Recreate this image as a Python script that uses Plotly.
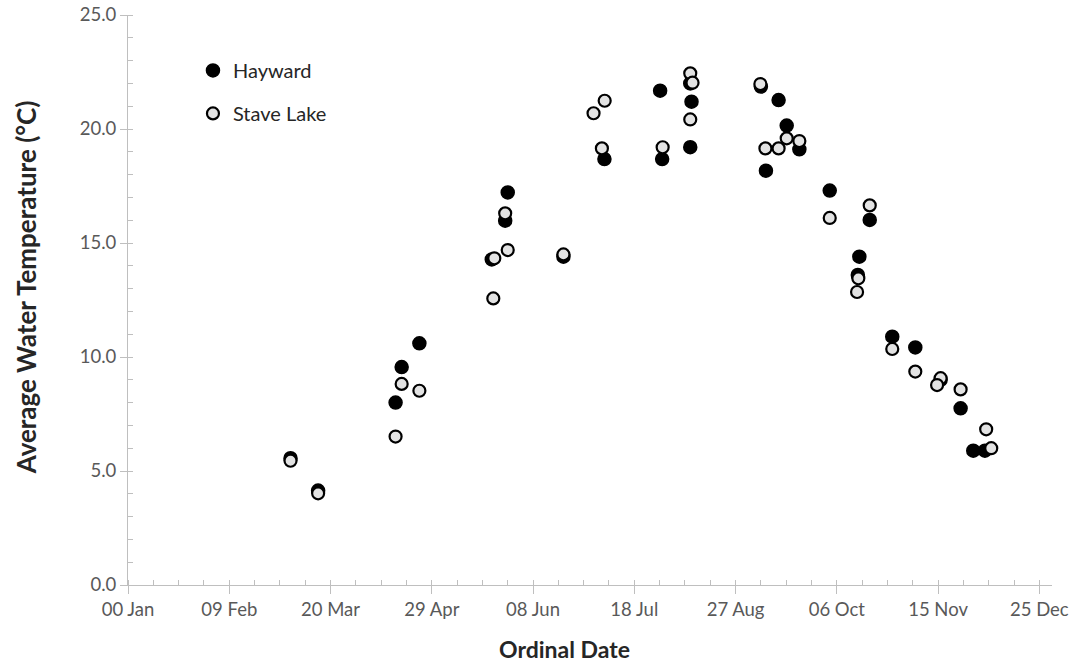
import plotly.graph_objects as go

# Ordinal day of year and average water temperature (°C)
hayward_day = [64.2, 75.1, 105.7, 108.1, 115.1, 143.7, 149.0, 150.0, 172.0, 188.2,
               210.2, 211.0, 222.1, 222.6, 222.1, 250.0, 252.0, 257.0, 260.2, 265.2,
               277.2, 288.9, 288.3, 293.0, 301.9, 311.0, 321.0, 328.9, 333.9, 338.5]
hayward_temp = [5.56, 4.14, 8.00, 9.56, 10.60, 14.28, 15.98, 17.22, 14.40, 18.68,
                21.68, 18.68, 22.00, 21.20, 19.20, 21.86, 18.17, 21.27, 20.15, 19.11,
                17.30, 14.40, 13.60, 16.01, 10.89, 10.42, 9.00, 7.75, 5.89, 5.89]

stave_day = [64.2, 75.1, 105.7, 108.1, 115.1, 144.3, 144.7, 149.0, 150.0, 172.0,
             183.9, 187.2, 188.3, 211.2, 222.1, 223.0, 222.1, 249.8, 251.8, 257.0,
             260.2, 265.2, 277.2, 293.0, 288.5, 288.0, 301.9, 311.0, 321.0, 319.6,
             328.9, 339.0, 341.0]
stave_temp = [5.45, 4.02, 6.51, 8.82, 8.52, 12.57, 14.33, 16.30, 14.69, 14.50,
              20.69, 19.15, 21.24, 19.20, 22.44, 22.03, 20.42, 21.97, 19.15, 19.15,
              19.59, 19.47, 16.10, 16.65, 13.45, 12.85, 10.35, 9.36, 9.07, 8.77,
              8.58, 6.83, 6.00]

x_tickvals = [0, 40, 80, 120, 160, 200, 240, 280, 320, 360]
x_ticktext = ["00 Jan", "09 Feb", "20 Mar", "29 Apr", "08 Jun", "18 Jul",
              "27 Aug", "06 Oct", "15 Nov", "25 Dec"]
y_tickvals = [0, 5, 10, 15, 20, 25]

FONT = "Lato, 'Open Sans', sans-serif"
AXIS_COLOR = "#bfbfbf"
LABEL_COLOR = "#595959"
TITLE_COLOR = "#262626"

fig = go.Figure()
fig.add_trace(go.Scatter(
    x=hayward_day, y=hayward_temp, mode="markers", name="Hayward",
    legendgroup="h",
    marker=dict(size=13, color="black", line=dict(color="black", width=1.5)),
))
fig.add_trace(go.Scatter(
    x=stave_day, y=stave_temp, mode="markers", name="Stave Lake",
    legendgroup="s",
    marker=dict(size=12, color="#e3e3e3", line=dict(color="black", width=2.2)),
))

fig.update_layout(
    width=1072, height=666,
    margin=dict(l=128, r=20, t=15, b=81),
    paper_bgcolor="white", plot_bgcolor="white",
    font=dict(family=FONT, color=LABEL_COLOR, size=18),
    showlegend=True,
    legend=dict(x=0.0703, y=0.937, xanchor="left", yanchor="top",
                font=dict(size=20, color=TITLE_COLOR, family=FONT),
                bgcolor="rgba(0,0,0,0)", tracegroupgap=14,
                traceorder="grouped"),
    annotations=[
        dict(text="<b>Ordinal Date</b>", xref="paper", yref="paper",
             x=0.472, y=-0.112, xanchor="center", yanchor="middle", showarrow=False,
             font=dict(size=23, color=TITLE_COLOR, family=FONT)),
        dict(text="<b>Average Water Temperature (°C)</b>", xref="paper", yref="paper",
             x=-0.111, y=0.523, xanchor="center", yanchor="middle", showarrow=False,
             textangle=-90, font=dict(size=26, color=TITLE_COLOR, family=FONT)),
    ],
)
fig.update_xaxes(
    range=[0, 365], tickvals=x_tickvals, ticktext=x_ticktext,
    showgrid=False, zeroline=False, automargin=False,
    showline=True, linecolor=AXIS_COLOR, linewidth=1,
    ticks="outside", ticklen=8, tickcolor=AXIS_COLOR,
    minor=dict(ticks="inside", ticklen=5, dtick=10, tick0=0, tickcolor=AXIS_COLOR, showgrid=False),
    tickfont=dict(size=18.5, color=LABEL_COLOR),
)
fig.update_yaxes(
    range=[0, 25], tickvals=y_tickvals, tickformat=".1f",
    showgrid=False, zeroline=False, automargin=False,
    showline=True, linecolor=AXIS_COLOR, linewidth=1,
    ticks="outside", ticklen=7, tickcolor=AXIS_COLOR,
    minor=dict(ticks="inside", ticklen=5, dtick=1, tick0=0, tickcolor=AXIS_COLOR, showgrid=False),
    tickfont=dict(size=18.5, color=LABEL_COLOR),
)

fig.write_html("out.html")
